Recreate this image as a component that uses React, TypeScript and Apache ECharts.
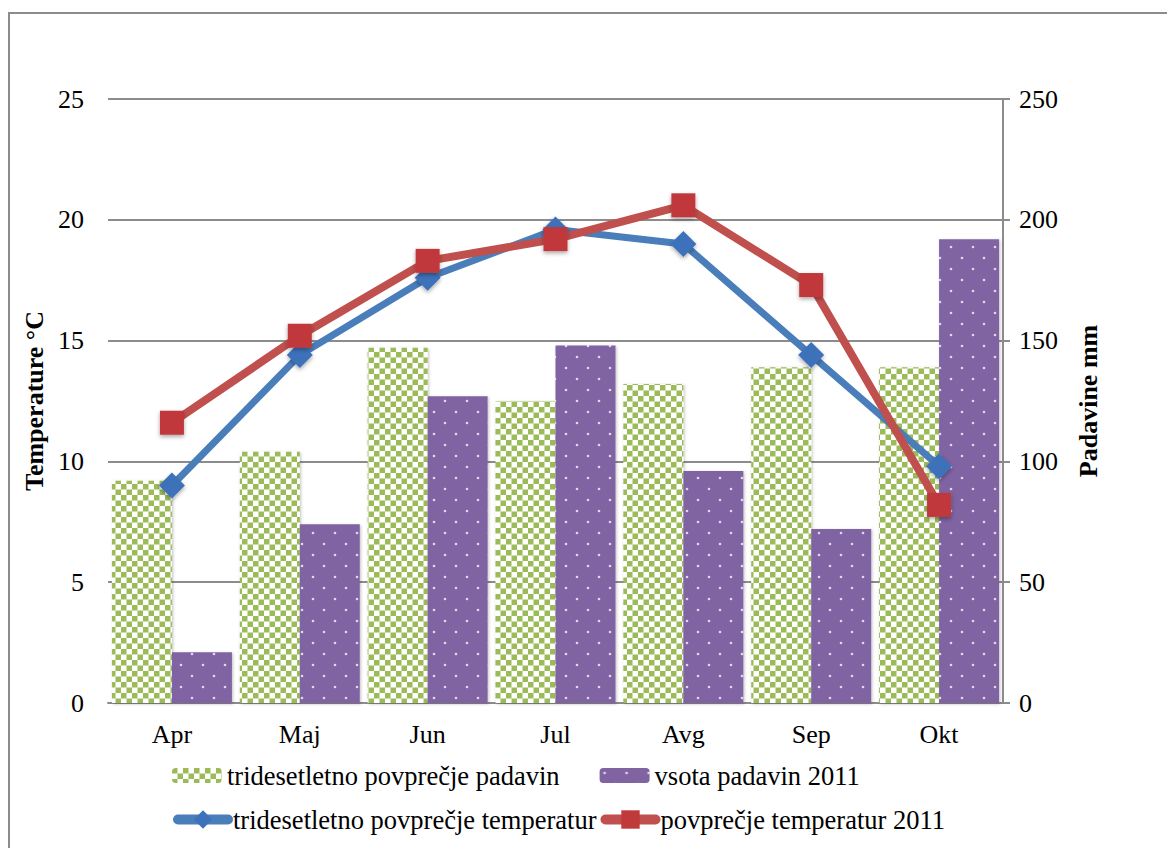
import React, { useEffect, useRef } from "react";
import * as echarts from "echarts";

const months = ["Apr", "Maj", "Jun", "Jul", "Avg", "Sep", "Okt"];
const avgPrecip = [92, 104, 147, 125, 132, 139, 139];
const precip2011 = [21, 74, 127, 148, 96, 72, 192];
const avgTemp = [9.0, 14.4, 17.6, 19.6, 19.0, 14.4, 9.8];
const temp2011 = [11.6, 15.2, 18.3, 19.2, 20.6, 17.3, 8.2];

const nameAvgPrecip = "tridesetletno povprečje padavin";
const namePrecip2011 = "vsota padavin 2011";
const nameAvgTemp = "tridesetletno povprečje temperatur";
const nameTemp2011 = "povprečje temperatur 2011";

const FONT = "Liberation Serif";

function checkerPattern(): string {
  const c = document.createElement("canvas");
  c.width = 11;
  c.height = 11;
  const ctx = c.getContext("2d")!;
  ctx.fillStyle = "#ffffff";
  ctx.fillRect(0, 0, 11, 11);
  ctx.fillStyle = "#9bbb59";
  ctx.fillRect(0, 0, 5.5, 5.5);
  ctx.fillRect(5.5, 5.5, 5.5, 5.5);
  return c.toDataURL();
}

function dotPattern(): string {
  const c = document.createElement("canvas");
  c.width = 22;
  c.height = 22;
  const ctx = c.getContext("2d")!;
  ctx.fillStyle = "#8064a2";
  ctx.fillRect(0, 0, 22, 22);
  ctx.fillStyle = "rgba(255,255,255,0.75)";
  ctx.beginPath();
  ctx.arc(5, 5, 1.3, 0, Math.PI * 2);
  ctx.fill();
  ctx.beginPath();
  ctx.arc(16, 16, 1.3, 0, Math.PI * 2);
  ctx.fill();
  return c.toDataURL();
}

export default function App() {
  const ref = useRef<HTMLDivElement>(null);
  useEffect(() => {
    if (!ref.current) return;
    const chart = echarts.init(ref.current, undefined, { renderer: "svg" });
    const greenFill: any = { image: checkerPattern(), repeat: "repeat" };
    const purpleFill: any = { image: dotPattern(), repeat: "repeat" };
    const textBase = { fontFamily: FONT, fontSize: 26, color: "#000" };
    const legendText = { fontFamily: FONT, fontSize: 26.5, color: "#000" };
    chart.setOption({
      animation: false,
      backgroundColor: "#fff",
      textStyle: { fontFamily: FONT },
      graphic: [
        {
          type: "rect",
          shape: { x: 9, y: 13, width: 1300, height: 1000 },
          style: { fill: "none", stroke: "#8c8c8c", lineWidth: 2 },
          silent: true,
          z: -10,
        },
      ],
      grid: { left: 108, right: 164, top: 99, bottom: 145, containLabel: false },
      legend: [
        {
          left: 172,
          top: 762,
          padding: 0,
          itemWidth: 50,
          itemHeight: 15,
          itemGap: 40,
          data: [nameAvgPrecip, namePrecip2011],
          textStyle: legendText,
        },
        {
          left: 173,
          top: 806,
          padding: 0,
          itemWidth: 50,
          itemHeight: 23,
          itemGap: 4,
          data: [nameAvgTemp, nameTemp2011],
          lineStyle: { width: 10, cap: "round" },
          textStyle: legendText,
        },
      ],
      xAxis: {
        type: "category",
        data: months,
        axisLine: { show: true, lineStyle: { color: "#8c8c8c", width: 2 } },
        axisTick: { show: false },
        axisLabel: { ...textBase, margin: 18 },
      },
      yAxis: [
        {
          type: "value",
          min: 0,
          max: 25,
          interval: 5,
          name: "Temperature °C",
          nameLocation: "middle",
          nameGap: 60,
          nameTextStyle: { ...textBase, fontWeight: "bold" },
          axisLine: { show: false },
          axisTick: { show: false },
          axisLabel: { ...textBase, margin: 24 },
          splitLine: { show: true, lineStyle: { color: "#8c8c8c", width: 2 } },
        },
        {
          type: "value",
          min: 0,
          max: 250,
          interval: 50,
          position: "right",
          name: "Padavine mm",
          nameLocation: "middle",
          nameGap: 72,
          nameRotate: 90,
          nameTextStyle: { ...textBase, fontWeight: "bold" },
          axisLine: { show: true, lineStyle: { color: "#8c8c8c", width: 2 } },
          axisTick: { show: true, length: 7, lineStyle: { color: "#8c8c8c", width: 2 } },
          axisLabel: { ...textBase, margin: 16 },
          splitLine: { show: false },
        },
      ],
      series: [
        {
          name: nameAvgPrecip,
          type: "bar",
          yAxisIndex: 1,
          data: avgPrecip,
          barWidth: 60,
          barGap: "0%",
          itemStyle: {
            color: greenFill,
            shadowColor: "rgba(0,0,0,0.25)",
            shadowBlur: 3,
            shadowOffsetX: 1,
            shadowOffsetY: 1,
          },
          z: 2,
        },
        {
          name: namePrecip2011,
          type: "bar",
          yAxisIndex: 1,
          data: precip2011,
          barWidth: 60,
          barGap: "0%",
          itemStyle: {
            color: purpleFill,
            shadowColor: "rgba(0,0,0,0.25)",
            shadowBlur: 3,
            shadowOffsetX: 1,
            shadowOffsetY: 1,
          },
          z: 2,
        },
        {
          name: nameAvgTemp,
          type: "line",
          yAxisIndex: 0,
          data: avgTemp,
          symbol: "diamond",
          symbolSize: 26,
          lineStyle: { color: "#4a7ebb", width: 7 },
          itemStyle: {
            color: "#3d72bb",
            shadowColor: "rgba(0,0,0,0.35)",
            shadowBlur: 4,
            shadowOffsetY: 2,
          },
          z: 3,
        },
        {
          name: nameTemp2011,
          type: "line",
          yAxisIndex: 0,
          data: temp2011,
          symbol: "rect",
          symbolSize: 24,
          lineStyle: { color: "#c0504d", width: 8 },
          itemStyle: {
            color: "#c0393b",
            shadowColor: "rgba(0,0,0,0.35)",
            shadowBlur: 4,
            shadowOffsetY: 2,
          },
          z: 4,
        },
      ],
    });
    return () => chart.dispose();
  }, []);
  return (
    <div
      ref={ref}
      style={{ position: "fixed", left: 0, top: 0, width: 1167, height: 848 }}
    />
  );
}
